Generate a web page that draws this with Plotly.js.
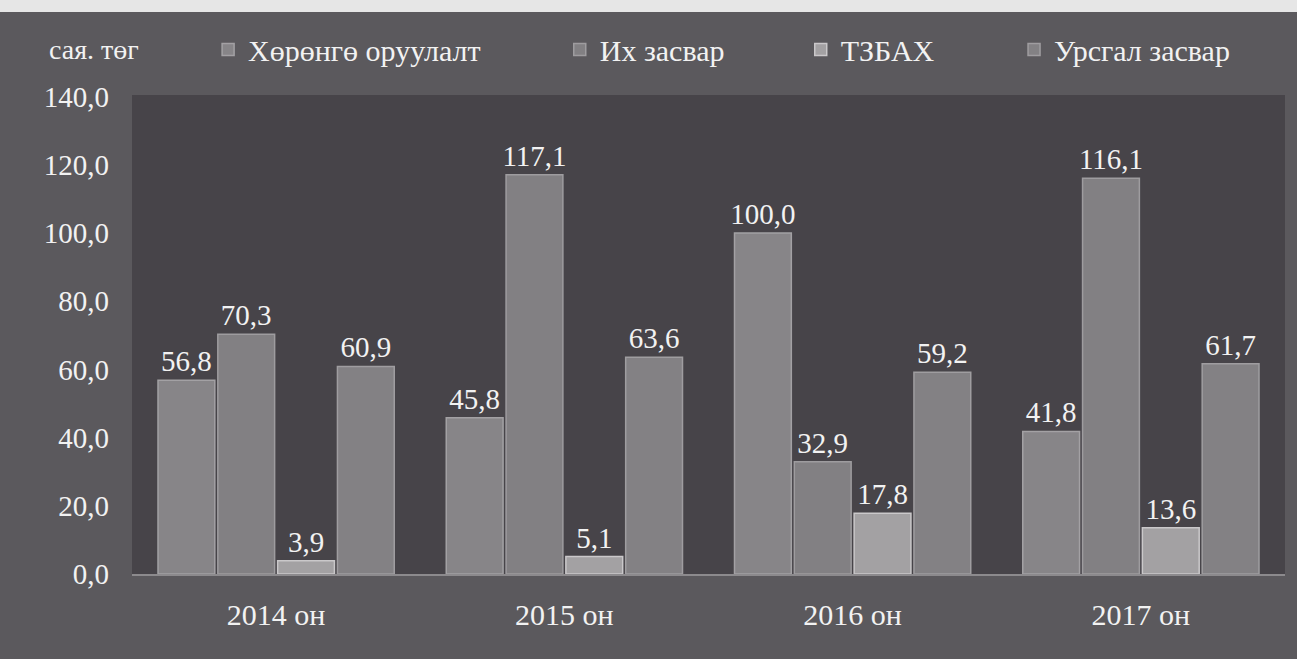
<!DOCTYPE html>
<html><head><meta charset="utf-8">
<script src="https://cdn.plot.ly/plotly-3.0.1.min.js"></script>
<style>html,body{margin:0;padding:0;background:#e6e6e6;}#chart{position:absolute;left:0;top:12px;width:1297px;height:647px;}</style>
</head><body><div id="chart"></div>
<script>
const categories = ["2014 он", "2015 он", "2016 он", "2017 он"];
const seriesNames = ["Хөрөнгө оруулалт", "Их засвар", "ТЗБАХ", "Урсгал засвар"];
const investment = [56.8, 45.8, 100.0, 41.8];
const majorRepair = [70.3, 117.1, 32.9, 116.1];
const tzbah = [3.9, 5.1, 17.8, 13.6];
const currentRepair = [60.9, 63.6, 59.2, 61.7];
const yTicks = [0, 20, 40, 60, 80, 100, 120, 140];
const yUnit = "сая. төг";

const seriesValues = [investment, majorRepair, tzbah, currentRepair];
const fills = ["#878588", "#828083", "#a3a1a3", "#838184"];
const edges = ["#a3a1a4", "#9e9c9f", "#cac8ca", "#9f9da0"];
const legendIds = ["legend", "legend2", "legend3", "legend4"];
const legendX = [0.066, 0.371, 0.58, 0.765];
const serif = "Liberation Serif";

const traces = seriesValues.map((vals, i) => ({
  type: "bar",
  name: seriesNames[i],
  legend: legendIds[i],
  x: categories,
  y: vals,
  marker: {color: fills[i], line: {color: edges[i], width: 1.5}},
  texttemplate: "%{y:.1f}",
  textposition: "outside",
  constraintext: "none",
  cliponaxis: false,
  textfont: {family: serif, size: 29, color: "#f2f2f2"},
  hoverinfo: "x+y+name"
}));

const layout = {
  width: 1297, height: 647,
  separators: ", ",
  paper_bgcolor: "#5b595d",
  plot_bgcolor: "#474449",
  margin: {l: 132, r: 12, t: 81, b: 85},
  barmode: "group",
  bargap: 0.17,
  bargroupgap: 0.05,
  font: {family: serif, color: "#f2f2f2", size: 28},
  xaxis: {
    showline: true, linecolor: "#8c8a8d", linewidth: 2,
    tickfont: {family: serif, size: 30, color: "#f2f2f2"},
    ticks: "", ticklabelstandoff: 13
  },
  yaxis: {
    range: [0, 140.5], tickvals: yTicks, tickformat: ".1f",
    showgrid: false, zeroline: false, showline: false,
    tickfont: {family: serif, size: 29, color: "#f2f2f2"},
    ticks: "", ticklabelstandoff: 22
  },
  annotations: [{
    text: yUnit, xref: "paper", yref: "paper", x: -0.033, y: 1.095,
    xanchor: "center", yanchor: "middle", showarrow: false,
    font: {family: serif, size: 28, color: "#f2f2f2"}
  }],
  showlegend: true
};
legendIds.forEach((id, i) => {
  layout[id] = {
    orientation: "h", x: legendX[i], xanchor: "left", y: 1.095, yanchor: "middle",
    font: {family: serif, size: 30, color: "#f2f2f2"},
    bgcolor: "rgba(0,0,0,0)", itemwidth: 30
  };
});

Plotly.newPlot("chart", traces, layout, {displayModeBar: false, staticPlot: true});
</script></body></html>
